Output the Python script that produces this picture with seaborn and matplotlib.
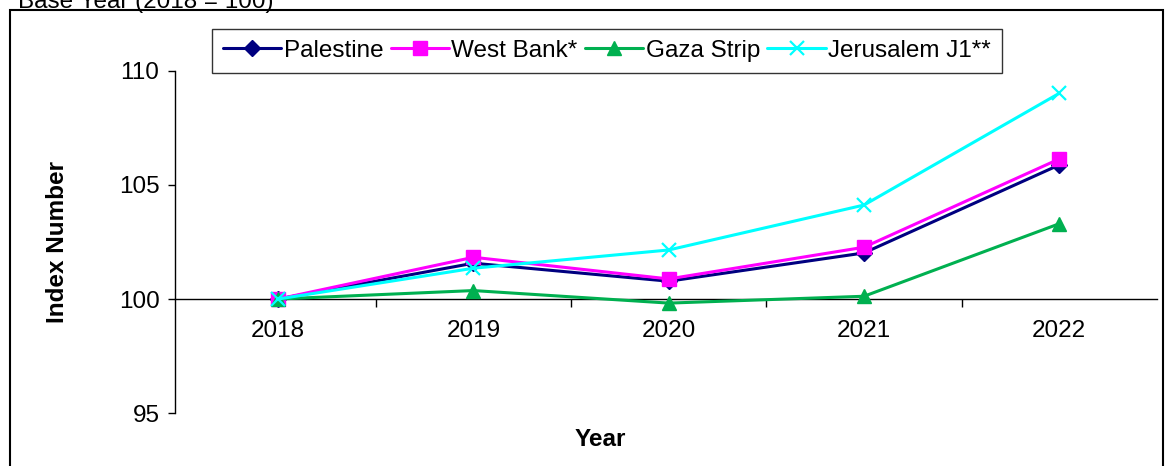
import matplotlib
matplotlib.use("Agg")
import matplotlib.pyplot as plt
from matplotlib.patches import Rectangle
from matplotlib.ticker import FixedLocator
import seaborn as sns

# data (base year 2018 = 100)
years = [2018, 2019, 2020, 2021, 2022]
palestine = [100.0, 101.57, 100.78, 102.02, 105.88]
west_bank = [100.0, 101.83, 100.88, 102.27, 106.14]
gaza_strip = [100.0, 100.37, 99.82, 100.12, 103.30]
jerusalem = [100.0, 101.35, 102.15, 104.12, 109.02]

series_names = ["Palestine", "West Bank*", "Gaza Strip", "Jerusalem J1**"]
y_ticks = [95, 100, 105, 110]

sns.set_style("white")
plt.rcParams["font.family"] = ["Liberation Sans", "DejaVu Sans"]
plt.rcParams["text.color"] = "black"
plt.rcParams["xtick.color"] = "black"
plt.rcParams["ytick.color"] = "black"
plt.rcParams["axes.labelcolor"] = "black"

fs = 17.5

fig = plt.figure(figsize=(11.65, 4.66), dpi=100)
ax = fig.add_axes([0.150, 0.1137, 0.843, 0.734])

styles = [
    (palestine, "#000080", "D", 8, 1.0),
    (west_bank, "#FF00FF", "s", 10, 1.0),
    (gaza_strip, "#00B050", "^", 10, 1.0),
    (jerusalem, "#00FFFF", "x", 10, 1.6),
]
for name, (vals, col, mk, ms, mew) in zip(series_names, styles):
    sns.lineplot(x=years, y=vals, ax=ax, color=col, marker=mk, markersize=ms,
                 markeredgewidth=mew, markeredgecolor=col, linewidth=2.2,
                 label=name, zorder=3)

ax.set_xlim(2017.47, 2022.5)
ax.set_ylim(95, 110)
ax.set_yticks(y_ticks)
ax.set_xticks(years)
ax.set_xticklabels([str(y) for y in years])
ax.xaxis.set_minor_locator(FixedLocator([2018.5, 2019.5, 2020.5, 2021.5]))

for side in ["top", "right"]:
    ax.spines[side].set_visible(False)
ax.spines["bottom"].set_position(("data", 100))
ax.spines["left"].set_color("black")
ax.spines["bottom"].set_color("black")
ax.spines["left"].set_linewidth(1.0)
ax.spines["bottom"].set_linewidth(1.0)

ax.tick_params(axis="y", which="major", direction="out", length=5, width=1,
               color="black", labelsize=fs, pad=6, left=True)
ax.tick_params(axis="x", which="major", length=0, labelsize=fs, pad=15, bottom=True)
ax.tick_params(axis="x", which="minor", direction="out", length=6, width=1,
               color="black", bottom=True)
ax.set_xlabel("")
ax.set_ylabel("")

leg = ax.legend(loc="upper left", bbox_to_anchor=(212 / 1165, 1 - 29 / 466),
                bbox_transform=fig.transFigure, ncol=4, fontsize=fs, frameon=True,
                fancybox=False, edgecolor="black", handlelength=2.4,
                handletextpad=0.1, columnspacing=0.3, borderpad=0.45,
                borderaxespad=0)
leg.get_frame().set_linewidth(1.0)

fig.text(58 / 1165, 1 - 242 / 466, "Index Number", rotation=90, fontsize=fs,
         fontweight="bold", ha="center", va="center")
fig.text(600 / 1165, 1 - 440 / 466, "Year", fontsize=fs, fontweight="bold",
         ha="center", va="center")
fig.text(18 / 1165, 1 - 8 / 466, "Base Year (2018 = 100)", fontsize=fs,
         ha="left", va="baseline")

fig.patches.append(Rectangle((10 / 1165, -0.05), 1153 / 1165, 1.05 - 10 / 466,
                             transform=fig.transFigure, fill=False,
                             edgecolor="black", linewidth=1.5))

fig.savefig("out.png", dpi=100)
